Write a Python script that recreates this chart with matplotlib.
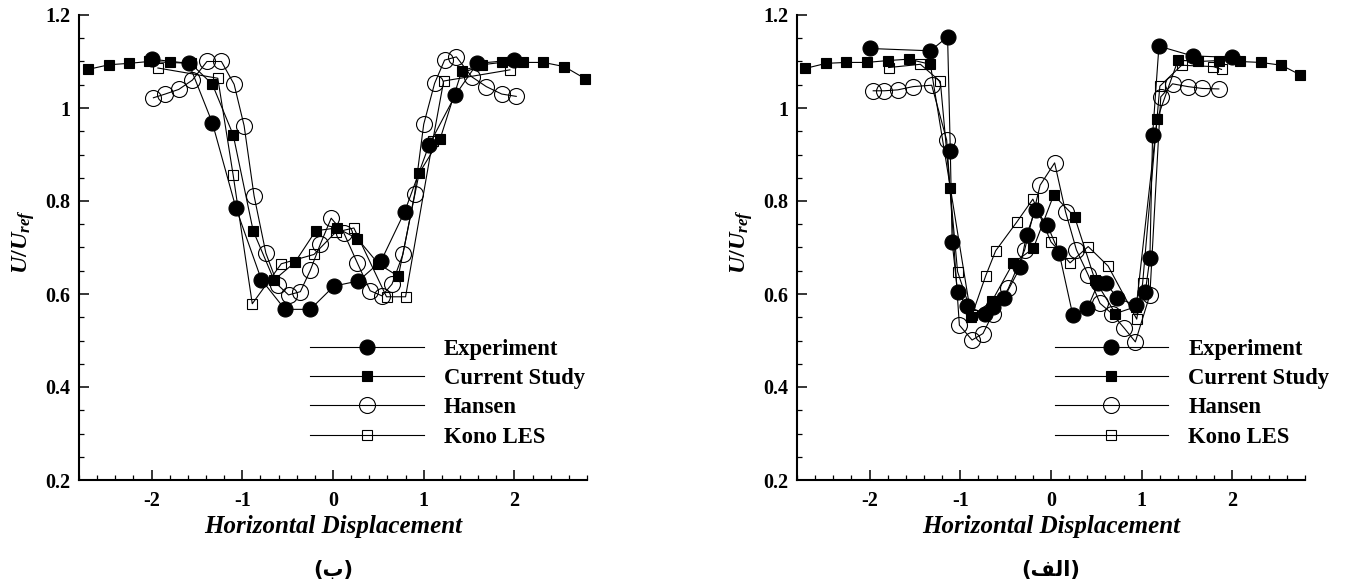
import matplotlib
matplotlib.use("Agg")
import matplotlib.pyplot as plt
from matplotlib.ticker import FixedLocator, MultipleLocator, FuncFormatter

plt.rcParams["axes.unicode_minus"] = False
plt.rcParams["mathtext.fontset"] = "custom"
plt.rcParams["mathtext.it"] = "Liberation Serif:italic:bold"
plt.rcParams["mathtext.rm"] = "Liberation Serif:bold"
plt.rcParams["mathtext.default"] = "it"

SERIF = "Liberation Serif"

# ---------------- panel (ب) ----------------
exp_b_x = [-2.00, -1.59, -1.33, -1.07, -0.79, -0.53, -0.25, 0.01, 0.28, 0.53, 0.79, 1.06, 1.35, 1.59, 1.99]
exp_b_y = [1.105, 1.096, 0.968, 0.785, 0.631, 0.567, 0.567, 0.617, 0.628, 0.671, 0.777, 0.921, 1.028, 1.096, 1.103]

cur_b_x = [-2.70, -2.47, -2.25, -2.03, -1.80, -1.57, -1.33, -1.10, -0.88, -0.65, -0.42, -0.19, 0.04,
           0.27, 0.50, 0.72, 0.95, 1.18, 1.42, 1.64, 1.86, 2.09, 2.32, 2.55, 2.78]
cur_b_y = [1.083, 1.093, 1.096, 1.100, 1.098, 1.096, 1.051, 0.942, 0.736, 0.630, 0.668, 0.736, 0.742,
           0.719, 0.665, 0.638, 0.860, 0.933, 1.080, 1.093, 1.098, 1.098, 1.098, 1.089, 1.063]

han_b_x = [-1.98, -1.85, -1.70, -1.55, -1.39, -1.23, -1.09, -0.98, -0.87, -0.74, -0.61, -0.49, -0.36,
           -0.25, -0.14, -0.02, 0.12, 0.27, 0.41, 0.54, 0.65, 0.77, 0.90, 1.00, 1.12, 1.23, 1.36,
           1.53, 1.69, 1.86, 2.02]
han_b_y = [1.022, 1.030, 1.040, 1.060, 1.100, 1.100, 1.051, 0.962, 0.811, 0.688, 0.620, 0.598, 0.605,
           0.651, 0.707, 0.763, 0.731, 0.666, 0.607, 0.596, 0.621, 0.685, 0.815, 0.965, 1.053, 1.103, 1.110,
           1.067, 1.046, 1.030, 1.025]

kono_b_x = [-1.93, -1.27, -1.10, -0.89, -0.57, -0.21, 0.03, 0.23, 0.59, 0.80, 1.10, 1.22, 1.95]
kono_b_y = [1.086, 1.064, 0.855, 0.579, 0.665, 0.685, 0.733, 0.742, 0.594, 0.594, 0.930, 1.058, 1.082]

# ---------------- panel (الف) ----------------
exp_a_x = [-2.00, -1.33, -1.14, -1.11, -1.09, -1.03, -0.93, -0.73, -0.64, -0.52, -0.34, -0.27, -0.17,
           -0.04, 0.09, 0.24, 0.40, 0.52, 0.61, 0.73, 0.94, 1.04, 1.09, 1.12, 1.19, 1.56, 1.99]
exp_a_y = [1.128, 1.123, 1.153, 0.908, 0.712, 0.605, 0.574, 0.558, 0.573, 0.591, 0.657, 0.727, 0.781,
           0.748, 0.688, 0.555, 0.569, 0.623, 0.623, 0.591, 0.576, 0.605, 0.677, 0.942, 1.133, 1.112, 1.109]

cur_a_x = [-2.71, -2.48, -2.26, -2.03, -1.80, -1.57, -1.33, -1.11, -0.88, -0.65, -0.42, -0.195, 0.03,
           0.26, 0.485, 0.71, 0.94, 1.17, 1.40, 1.62, 1.85, 2.08, 2.31, 2.54, 2.75]
cur_a_y = [1.085, 1.096, 1.098, 1.098, 1.102, 1.105, 1.094, 0.829, 0.551, 0.585, 0.666, 0.698, 0.813,
           0.766, 0.630, 0.558, 0.573, 0.976, 1.103, 1.100, 1.102, 1.100, 1.098, 1.092, 1.071]

han_a_x = [-1.96, -1.84, -1.69, -1.52, -1.315, -1.15, -1.01, -0.87, -0.75, -0.64, -0.47, -0.29, -0.12,
           0.04, 0.16, 0.28, 0.41, 0.54, 0.67, 0.81, 0.93, 1.09, 1.21, 1.34, 1.51, 1.67, 1.85]
han_a_y = [1.037, 1.037, 1.039, 1.046, 1.049, 0.931, 0.533, 0.501, 0.515, 0.558, 0.612, 0.695, 0.834,
           0.882, 0.777, 0.695, 0.641, 0.580, 0.558, 0.526, 0.497, 0.598, 1.024, 1.052, 1.046, 1.042, 1.041]

kono_a_x = [-1.79, -1.44, -1.22, -1.03, -0.87, -0.72, -0.61, -0.38, -0.20, 0.00, 0.21, 0.41, 0.63,
            0.945, 1.01, 1.20, 1.44, 1.79, 1.88]
kono_a_y = [1.087, 1.094, 1.057, 0.648, 0.555, 0.639, 0.693, 0.754, 0.804, 0.712, 0.667, 0.702, 0.660,
            0.546, 0.623, 1.047, 1.092, 1.089, 1.083]

series_names = ["Experiment", "Current Study", "Hansen", "Kono LES"]
y_ticks = [0.2, 0.4, 0.6, 0.8, 1.0, 1.2]
x_ticks = [-2, -1, 0, 1, 2]
x_label = "Horizontal Displacement"
y_label = r"$U/U_{ref}$"
# Arabic captions, written in visual order with presentation forms
caption_b = "(\uFE8F)"
caption_a = "(\uFED2\uFEDF\uFE8D)"

styles = [
    dict(marker="o", ms=10.8, mfc="black", mec="black", mew=0.8, zorder=6),
    dict(marker="s", ms=7.0, mfc="black", mec="black", mew=0.8, zorder=5),
    dict(marker="o", ms=11.5, mfc="none", mec="black", mew=0.8, zorder=3),
    dict(marker="s", ms=7.5, mfc="none", mec="black", mew=0.8, zorder=4),
]

W, H = 1347, 588
fig = plt.figure(figsize=(W / 100, H / 100), dpi=100)
fig.patch.set_facecolor("white")

ax_b = fig.add_axes([79 / W, 1 - 480 / H, 508 / W, 465 / H])
ax_a = fig.add_axes([797 / W, 1 - 480 / H, 508 / W, 465 / H])

panels = [
    (ax_b, [(exp_b_x, exp_b_y), (cur_b_x, cur_b_y), (han_b_x, han_b_y), (kono_b_x, kono_b_y)], -0.25, caption_b),
    (ax_a, [(exp_a_x, exp_a_y), (cur_a_x, cur_a_y), (han_a_x, han_a_y), (kono_a_x, kono_a_y)], 0.04, caption_a),
]

for ax, data, leg_x, caption in panels:
    handles = []
    for (xs, ys), st, name in zip(data, styles, series_names):
        (ln,) = ax.plot(xs, ys, color="black", lw=0.8, label=name, clip_on=False, **st)
        handles.append(ln)

    ax.set_xlim(-2.8, 2.8)
    ax.set_ylim(0.2, 1.2)
    for side in ("top", "right"):
        ax.spines[side].set_visible(False)
    for side in ("left", "bottom"):
        ax.spines[side].set_linewidth(1.5)

    ax.xaxis.set_major_locator(FixedLocator(x_ticks))
    ax.yaxis.set_major_locator(FixedLocator(y_ticks))
    ax.xaxis.set_minor_locator(MultipleLocator(0.2))
    ax.yaxis.set_minor_locator(MultipleLocator(0.05))
    ax.yaxis.set_major_formatter(FuncFormatter(lambda v, p: f"{v:g}"))
    ax.xaxis.set_major_formatter(FuncFormatter(lambda v, p: f"{v:g}"))
    ax.tick_params(which="major", direction="in", length=7.5, width=1.1, top=False, right=False)
    ax.tick_params(which="minor", direction="in", length=3.8, width=0.9, top=False, right=False)
    ax.tick_params(axis="y", which="major", pad=6)
    ax.tick_params(axis="x", which="major", pad=8)
    for lab in ax.get_xticklabels() + ax.get_yticklabels():
        lab.set_fontfamily(SERIF)
        lab.set_fontweight("bold")
        lab.set_fontsize(14.5)

    ax.set_xlabel(x_label, fontfamily=SERIF, fontweight="bold", fontstyle="italic",
                  fontsize=18, va="center")
    ax.xaxis.set_label_coords(0.5, -0.101)
    ax.set_ylabel(y_label, fontsize=17.5, rotation=90, ha="center", va="center")
    ax.yaxis.set_label_coords(-0.110, 0.512)

    ax.legend(handles=handles, loc="center left", bbox_to_anchor=(leg_x, 0.3865),
              bbox_transform=ax.transData, frameon=False, borderpad=0, borderaxespad=0,
              handlelength=5.0, handletextpad=0.9, labelspacing=0.36, numpoints=1,
              prop=dict(family=SERIF, weight="bold", size=16.3))

    pos = ax.get_position()
    fig.text(pos.x0 + pos.width / 2, 1 - 570 / H, caption, ha="center", va="center",
             fontsize=15, fontweight="bold", family=["DejaVu Sans"])

fig.savefig("out.png", dpi=100, facecolor="white")
